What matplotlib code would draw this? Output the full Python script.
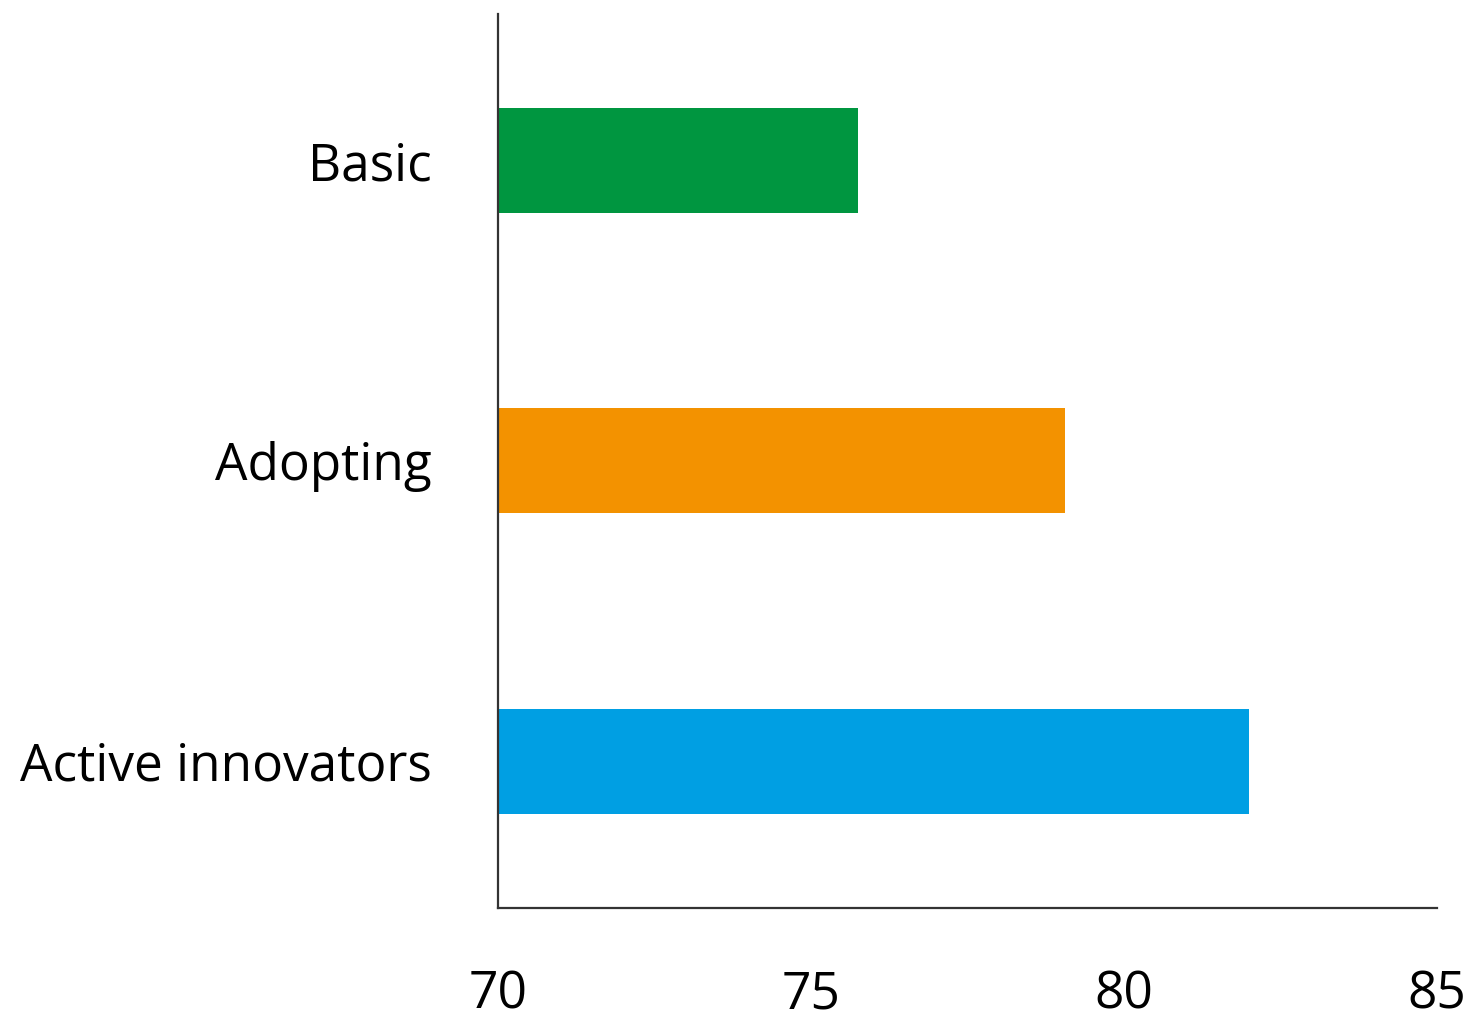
import matplotlib
matplotlib.use("Agg")
from matplotlib import pyplot as plt

categories = ["Basic", "Adopting", "Active innovators"]
values = [75.75, 79.05, 82.0]
colors = ["#009640", "#F39200", "#009FE3"]
x_ticks = [70, 75, 80, 85]

plt.rcParams['font.family'] = ['Open Sans', 'DejaVu Sans']

fig = plt.figure(figsize=(14.7, 10.19), dpi=100)
ax = fig.add_axes([0.3388, 0.1089, 0.9776 - 0.3388, 0.9863 - 0.1089])

y_pos = list(range(len(categories)))
ax.barh(y_pos, [v - 70 for v in values], left=70, height=0.35, color=colors)

ax.set_xlim(70, 85)
ax.set_ylim(2.49, -0.49)
ax.set_xticks(x_ticks)
ax.set_yticks(y_pos)
ax.set_yticklabels(categories)

for s in ["top", "right"]:
    ax.spines[s].set_visible(False)
for s in ["left", "bottom"]:
    ax.spines[s].set_color("#333333")
    ax.spines[s].set_linewidth(1.6)

ax.tick_params(axis="both", length=0, labelsize=37)
ax.tick_params(axis="x", pad=44)
ax.tick_params(axis="y", pad=48)

plt.savefig("out.png", dpi=100)
